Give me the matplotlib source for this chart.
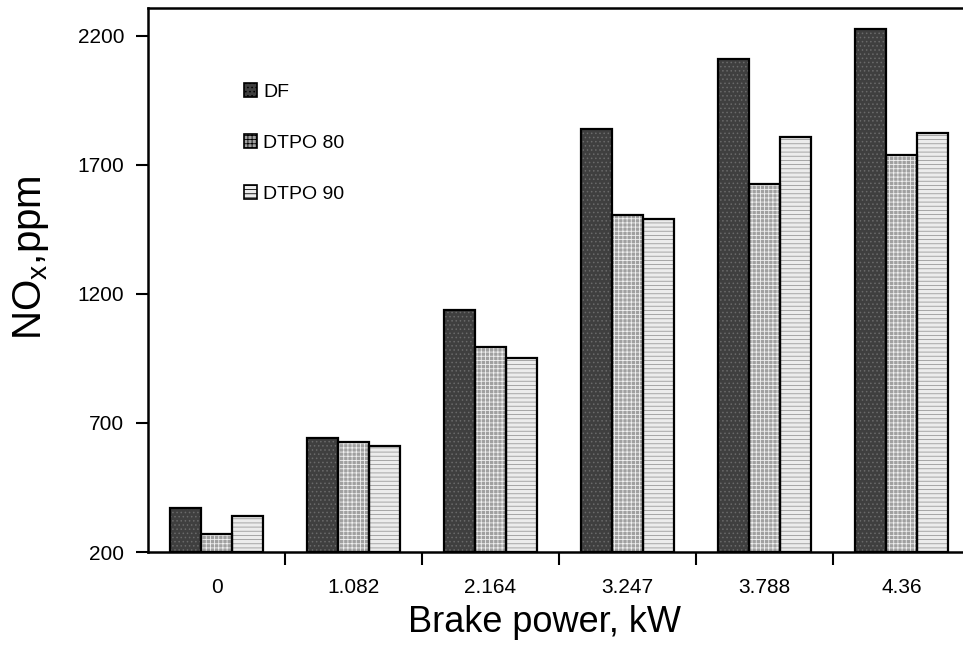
import matplotlib

matplotlib.use("Agg")
import matplotlib.pyplot as plt
import numpy as np
from matplotlib.patches import Patch

plt.rcParams.update({
    "font.family": ["Liberation Sans", "DejaVu Sans"],
    "mathtext.fontset": "custom",
    "mathtext.rm": "Liberation Sans",
    "mathtext.it": "Liberation Sans",
    "hatch.linewidth": 0.6,
})

loads = ["0", "1.082", "2.164", "3.247", "3.788", "4.36"]
df = [370, 642, 1138, 1840, 2111, 2227]
dtpo80 = [270, 626, 995, 1506, 1626, 1739]
dtpo90 = [340, 611, 952, 1491, 1809, 1824]

series = [
    ("DF", df, "#3f3f3f", "#6a6a6a", "...."),
    ("DTPO 80", dtpo80, "#a0a0a0", "#f0f0f0", "++++"),
    ("DTPO 90", dtpo90, "#ececec", "#9a9a9a", "----"),
]

fig = plt.figure(figsize=(9.63, 6.45), dpi=100)
ax = fig.add_axes([148 / 963, 93 / 645, 822 / 963, 544 / 645])

x = np.arange(len(loads))
w = 0.225
base = 200
handles = []
for i, (name, vals, fc, hc, hatch) in enumerate(series):
    pos = x + (i - 1) * w
    h = np.array(vals) - base
    ax.bar(pos, h, w, bottom=base, color=fc, edgecolor=hc, hatch=hatch, lw=0, zorder=2)
    ax.bar(pos, h, w, bottom=base, facecolor="none", edgecolor="black", lw=1.6, zorder=3)
    handles.append(Patch(facecolor=fc, edgecolor="black", hatch=hatch, lw=1.2, label=name))

ax.set_xlim(-0.5, len(loads) - 0.5)
ax.set_ylim(200, 2308)
ax.set_yticks([200, 700, 1200, 1700, 2200])
ax.set_xticks(x)
ax.set_xticklabels(loads)
ax.set_xticks(np.arange(0.5, len(loads) - 0.5, 1), minor=True)
ax.tick_params(axis="x", which="major", length=0, pad=19, labelsize=15)
ax.tick_params(axis="x", which="minor", length=9, width=1.5, direction="out")
ax.tick_params(axis="y", length=9, width=1.5, direction="out", labelsize=15, pad=8)
for s in ["left", "top", "bottom"]:
    ax.spines[s].set_linewidth(1.8)
ax.spines["right"].set_visible(False)

ax.set_ylabel("NO$_x$,ppm", fontsize=29)
ax.yaxis.set_label_coords(-0.118, 0.542)
ax.set_xlabel("Brake power, kW", fontsize=26)
ax.xaxis.set_label_coords(0.482, -0.097)

ax.legend(handles=handles, loc="upper left", bbox_to_anchor=(0.107, 0.876),
          frameon=False, fontsize=14, handlelength=0.7, handleheight=0.7,
          handletextpad=0.3, labelspacing=1.72, borderaxespad=0)

fig.savefig("out.png", dpi=100)
